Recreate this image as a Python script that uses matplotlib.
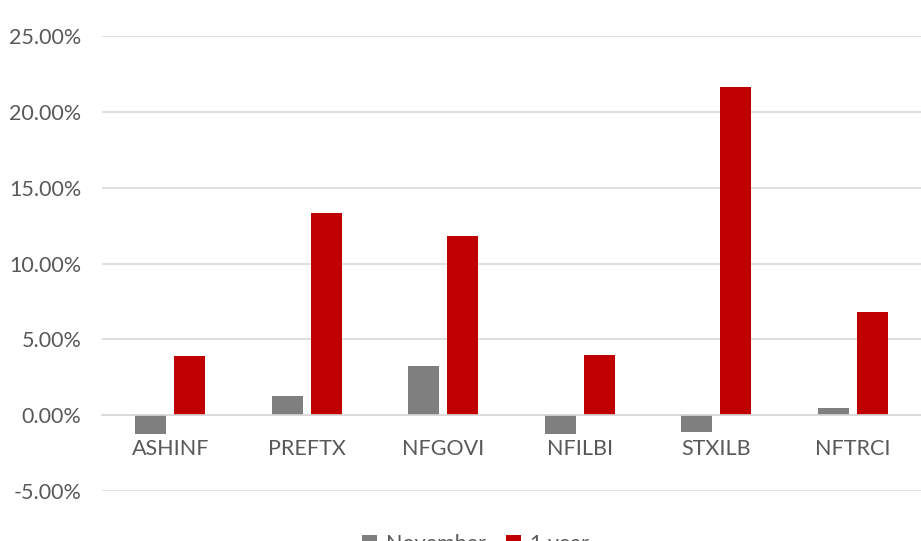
import numpy as np
import matplotlib
matplotlib.use("Agg")
import matplotlib.pyplot as plt
from matplotlib.ticker import FuncFormatter

# values in percent
categories = ["ASHINF", "PREFTX", "NFGOVI", "NFILBI", "STXILB", "NFTRCI"]
november = [-1.22, 1.29, 3.24, -1.22, -1.12, 0.49]
one_year = [3.90, 13.33, 11.82, 3.95, 21.64, 6.81]

GREY = "#7f7f7f"
RED = "#c00000"
TXT = "#595959"
GRID = "#d9d9d9"

plt.rcParams["font.family"] = ["Lato", "DejaVu Sans"]

fig = plt.figure(figsize=(9.21, 5.41), dpi=100)
ax = fig.add_axes([102/921, 1 - 491/541, 819/921, 455/541])

x = np.arange(len(categories))
w = 0.227
gap = 0.06
ax.bar(x - (w + gap)/2, november, w, color=GREY, label="November", zorder=3)
ax.bar(x + (w + gap)/2, one_year, w, color=RED, label="1 year", zorder=3)

ax.set_xlim(-0.5, len(categories) - 0.5)
ax.set_ylim(-5, 25)
ax.set_yticks(np.arange(-5, 26, 5))
ax.yaxis.set_major_formatter(FuncFormatter(lambda v, p: f"{v:.2f}%"))
ax.grid(axis="y", color=GRID, linewidth=1.2, zorder=0)

for s in ["top", "right", "left"]:
    ax.spines[s].set_visible(False)
ax.spines["bottom"].set_position(("data", 0))
ax.spines["bottom"].set_color(GRID)
ax.spines["bottom"].set_linewidth(1.2)
ax.spines["bottom"].set_zorder(4)

ax.set_xticks(x)
ax.set_xticklabels(categories)
ax.tick_params(axis="both", length=0, labelsize=15.5, labelcolor=TXT)
ax.tick_params(axis="y", pad=15)
ax.tick_params(axis="x", pad=17)

# legend sits at the bottom edge, partly cut off like the original
fig.legend(loc="upper center", bbox_to_anchor=(0.5165, 1 - 515/541), ncol=2,
           frameon=False, fontsize=15.5, labelcolor=TXT, handlelength=0.7,
           handleheight=0.7, handletextpad=0.4, columnspacing=0.95)

fig.savefig("out.png", dpi=100)
